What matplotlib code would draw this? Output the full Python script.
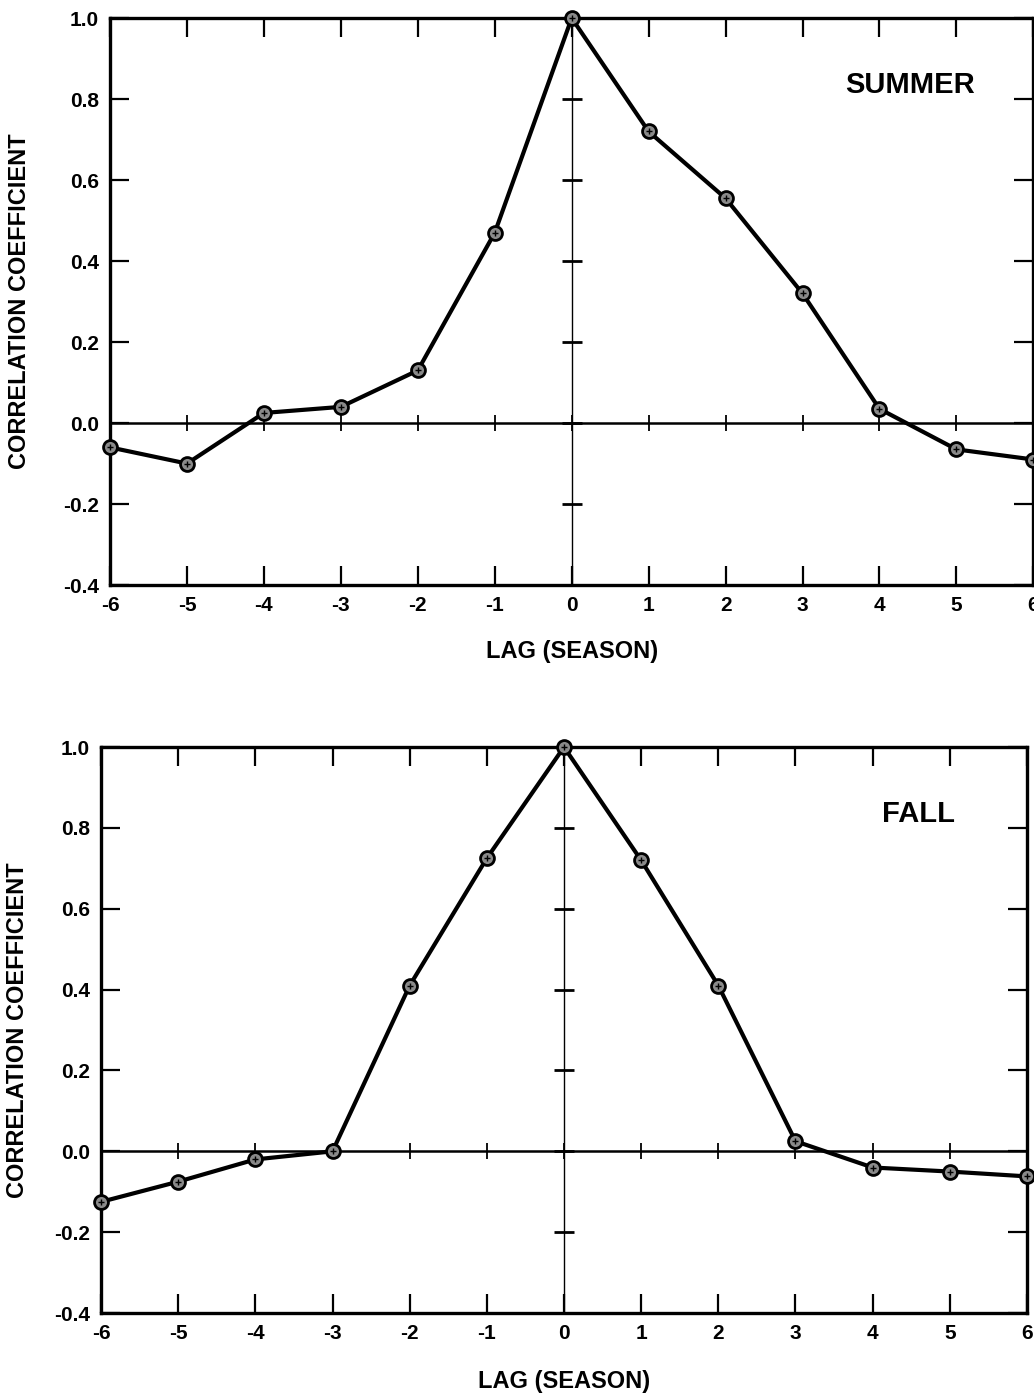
import matplotlib
matplotlib.use('Agg')
import matplotlib.pyplot as plt
import numpy as np

# lag in seasons
lags = [-6, -5, -4, -3, -2, -1, 0, 1, 2, 3, 4, 5, 6]

# correlation coefficients
summer = [-0.06, -0.10, 0.025, 0.04, 0.13, 0.47, 1.0, 0.72, 0.555, 0.32, 0.035, -0.065, -0.09]
fall = [-0.125, -0.075, -0.02, 0.0, 0.41, 0.725, 1.0, 0.72, 0.41, 0.025, -0.04, -0.05, -0.062]

yticks = [-0.4, -0.2, 0.0, 0.2, 0.4, 0.6, 0.8, 1.0]
ytick_labels = ['-0.4', '-0.2', '0.0', '0.2', '0.4', '0.6', '0.8', '1.0']

plt.rcParams['font.family'] = ['Liberation Sans', 'DejaVu Sans']
plt.rcParams['font.weight'] = 'bold'

fig = plt.figure(figsize=(10.34, 13.93), dpi=100)
ax1 = fig.add_axes([0.1064, 0.580, 0.893, 0.407])
ax2 = fig.add_axes([0.0977, 0.0574, 0.8955, 0.4063])


def draw_panel(ax, values, name, name_x, ylab_x, xlab_y):
    ax.set_xlim(-6, 6)
    ax.set_ylim(-0.4, 1.0)
    # crosshair axes through the origin
    ax.axhline(0, color='black', lw=1.8, zorder=1)
    ax.axvline(0, color='black', lw=1.0, zorder=1)
    ax.plot(lags, np.zeros(len(lags)), ls='none', marker='|', ms=11, mew=1.3, color='black', zorder=1)
    ax.plot(np.zeros(len(yticks)), yticks, ls='none', marker='_', ms=14, mew=2.0, color='black', zorder=1)
    # the data
    ax.plot(lags, values, color='black', lw=3.0, zorder=3, clip_on=False)
    ax.plot(lags, values, ls='none', marker='o', ms=10, mfc='#8a8a8a', mec='black', mew=2.0, zorder=4, clip_on=False)
    ax.plot(lags, values, ls='none', marker='+', ms=5, mew=1.0, color='black', zorder=5, clip_on=False)

    ax.set_xticks(lags)
    ax.set_xticklabels([str(l) for l in lags])
    ax.set_yticks(yticks)
    ax.set_yticklabels(ytick_labels)
    ax.tick_params(direction='in', length=14, width=1.6, top=True, right=True, labelsize=15, pad=8)
    for s in ax.spines.values():
        s.set_linewidth(2.4)
    ax.set_xlabel('LAG (SEASON)', fontsize=17, fontweight='bold')
    ax.set_ylabel('CORRELATION COEFFICIENT', fontsize=17, fontweight='bold')
    ax.xaxis.set_label_coords(0.5, xlab_y)
    ax.yaxis.set_label_coords(ylab_x, 0.5)
    ax.text(name_x, 0.882, name, transform=ax.transAxes, ha='right', va='center', fontsize=21, fontweight='bold')


draw_panel(ax1, summer, 'SUMMER', 0.937, -0.0856, -0.097)
draw_panel(ax2, fall, 'FALL', 0.922, -0.078, -0.1007)

fig.savefig('out.png', dpi=100)
